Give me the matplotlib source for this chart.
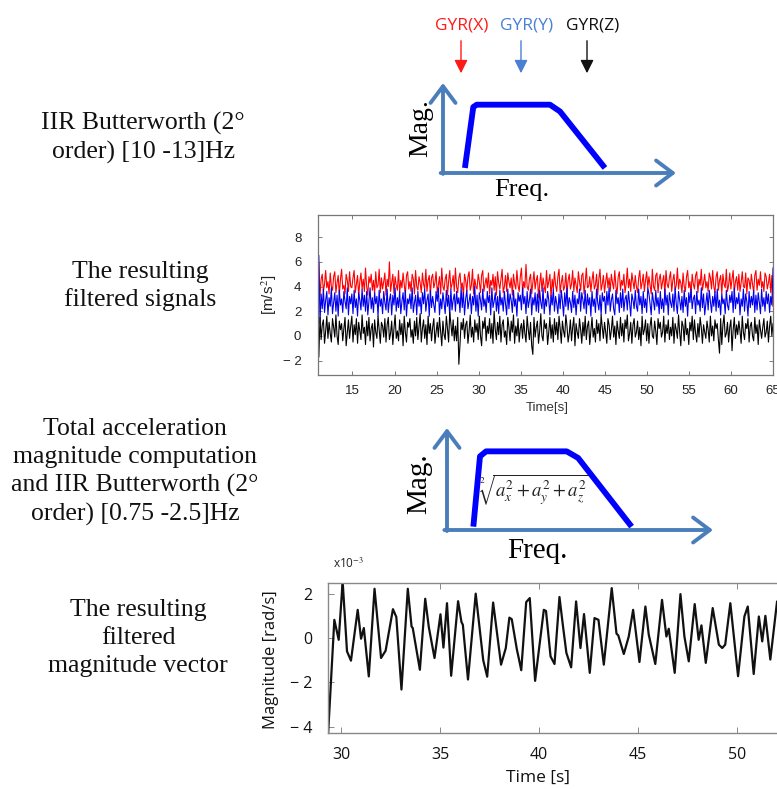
import numpy as np
import matplotlib
matplotlib.use("Agg")
import matplotlib.pyplot as plt

plt.rcParams["mathtext.fontset"] = "stix"

W, H = 777, 789

# ---- filtered gyro signals, 11 s .. 65 s (hand read, thinned) ----
T_START, T_END = 11.0, 65.0
gyr_x = [
    5.9, 3.2, 4.6, 5.0, 3.6, 4.2, 5.3, 3.9, 4.4, 3.4,
    5.1, 4.0, 3.7, 4.8, 5.2, 3.5, 4.3, 4.9, 3.3, 4.6,
    5.4, 3.8, 4.1, 3.4, 5.0, 4.5, 3.6, 5.2, 4.0, 3.9,
    4.7, 5.3, 3.5, 4.2, 4.9, 3.2, 4.4, 5.1, 3.8, 4.6,
    3.6, 5.5, 4.0, 3.3, 4.8, 4.3, 5.0, 3.7, 4.5, 3.4,
    5.2, 3.9, 4.1, 5.4, 3.5, 4.7, 3.8, 4.4, 5.1, 3.3,
    4.6, 4.0, 6.0, 3.6, 4.3, 5.0, 3.4, 4.8, 4.1, 3.7,
    5.3, 3.5, 4.5, 3.9, 5.1, 4.2, 3.3, 4.9, 5.2, 3.8,
    4.4, 3.6, 5.0, 4.6, 3.4, 5.3, 4.0, 3.7, 4.8, 4.3,
    3.5, 5.1, 4.2, 3.8, 5.4, 3.6, 4.5, 4.9, 3.3, 4.7,
    5.0, 3.9, 4.3, 5.2, 3.5, 4.1, 4.8, 3.4, 5.5, 4.0,
    3.7, 4.6, 5.0, 3.3, 4.4, 5.3, 3.8, 4.2, 4.9, 3.6,
    5.5, 4.0, 3.5, 4.7, 5.1, 3.9, 4.3, 3.2, 5.0, 4.5,
    3.6, 4.8, 5.2, 3.7, 4.1, 5.4, 3.4, 4.6, 4.0, 3.8,
    5.0, 4.4, 3.5, 4.9, 5.3, 3.6, 4.2, 4.7, 3.9, 5.1,
    3.4, 4.5, 4.1, 5.0, 3.7, 4.8, 3.3, 5.2, 4.3, 3.8,
    4.6, 5.4, 3.5, 4.0, 4.9, 3.6, 5.1, 4.4, 3.9, 4.7,
    3.3, 5.0, 4.2, 3.8, 5.3, 4.1, 3.6, 4.8, 5.5, 3.5,
    4.4, 3.9, 5.8, 4.0, 3.7, 4.6, 5.0, 3.4, 4.3, 5.2,
    3.8, 4.5, 4.9, 3.1, 4.2, 5.1, 3.6, 4.7, 4.0, 3.5,
    5.3, 3.9, 4.4, 5.0, 3.0, 4.6, 3.8, 5.2, 4.1, 3.6,
    4.8, 5.4, 3.5, 4.3, 4.9, 3.7, 4.0, 5.1, 3.4, 4.5,
    5.0, 3.8, 4.2, 5.3, 3.6, 4.7, 4.1, 3.5, 5.2, 4.4,
    3.7, 4.9, 5.1, 3.4, 4.3, 5.5, 3.9, 4.0, 4.8, 3.6,
    4.5, 5.2, 3.8, 4.1, 5.0, 3.3, 4.6, 5.4, 3.7, 4.2,
    4.9, 3.5, 4.4, 5.1, 3.9, 4.7, 3.6, 5.0, 4.3, 3.8,
    5.3, 4.0, 3.4, 4.8, 5.2, 3.7, 4.5, 4.1, 5.0, 3.5,
    4.2, 5.5, 3.9, 4.6, 3.6, 5.1, 4.4, 3.8, 4.9, 4.0,
    3.5, 4.7, 5.3, 3.8, 4.3, 5.0, 3.6, 4.5, 5.2, 3.9,
    4.8, 4.1, 3.4, 5.4, 4.0, 3.7, 4.9, 5.1, 3.5, 4.6,
    5.0, 3.8, 4.4, 4.9, 3.3, 5.3, 4.2, 3.9, 4.7, 5.2,
    3.6, 4.5, 5.0, 3.7, 4.1, 5.5, 3.8, 4.6, 4.3, 3.5,
    5.1, 4.0, 3.6, 4.8, 5.3, 3.9, 4.4, 3.4, 5.0, 4.2,
    3.8, 4.9, 5.2, 3.5, 4.6, 4.1, 5.4, 3.7, 4.3, 5.0,
    3.9, 4.4, 3.6, 5.1, 4.7, 3.8, 5.3, 4.0, 3.5, 4.8,
    5.2, 3.7, 4.5, 4.9, 3.4, 5.0, 4.2, 3.9, 5.4, 3.6,
    4.1, 5.1, 3.8, 4.6, 5.3, 3.5, 4.4, 4.8, 3.7, 5.0,
    3.6, 4.3, 5.2, 4.0, 3.9, 5.1, 3.4, 4.7, 4.5, 3.8,
    5.0, 4.2, 3.5, 4.9, 5.3, 3.7, 4.6, 4.1, 5.2, 3.9,
    4.4, 3.6, 5.1, 4.8, 3.8, 4.3, 5.0, 3.5, 4.9, 2.4,
]
gyr_y = [
    6.5, 1.0, 3.4, 2.2, 3.8, 1.9, 2.9, 3.6, 1.7, 3.1,
    2.4, 3.9, 1.8, 2.7, 3.5, 2.0, 3.3, 1.6, 3.7, 2.5,
    3.0, 1.9, 3.6, 2.8, 2.2, 3.9, 1.7, 3.2, 2.6, 3.4,
    1.8, 3.7, 2.3, 3.0, 1.6, 3.5, 2.9, 2.1, 3.8, 2.4,
    3.3, 2.0, 3.6, 1.7, 2.8, 3.9, 2.2, 3.1, 1.9, 3.5,
    2.6, 3.2, 1.6, 3.7, 2.4, 3.0, 1.8, 3.6, 2.7, 2.1,
    3.8, 1.9, 2.9, 3.4, 1.7, 3.3, 2.5, 3.9, 2.0, 3.1,
    2.3, 3.6, 1.8, 2.8, 3.5, 2.1, 3.7, 1.6, 3.0, 2.6,
    3.4, 2.2, 3.9, 1.9, 2.7, 3.3, 1.7, 3.6, 2.4, 3.1,
    1.8, 3.5, 2.6, 3.8, 2.0, 2.9, 3.4, 1.6, 3.7, 2.3,
    3.2, 2.5, 1.9, 3.6, 2.8, 3.9, 1.7, 3.0, 2.2, 3.5,
    2.7, 1.8, 3.7, 2.4, 3.3, 1.6, 3.8, 2.1, 2.9, 3.4,
    2.0, 3.6, 2.6, 3.1, 1.9, 3.9, 2.3, 3.5, 1.7, 3.0,
    3.7, 2.2, 2.8, 3.4, 1.8, 3.2, 2.5, 4.0, 2.0, 3.3,
    1.6, 3.5, 2.9, 2.1, 3.8, 2.4, 3.0, 1.9, 3.6, 2.7,
    3.3, 1.7, 3.9, 2.3, 2.8, 3.5, 2.0, 3.2, 1.8, 3.7,
    2.5, 3.1, 2.0, 3.6, 2.6, 1.7, 3.8, 2.2, 3.4, 2.9,
    1.9, 3.7, 2.4, 3.0, 1.6, 3.5, 2.8, 3.3, 2.1, 3.9,
    2.6, 3.2, 1.8, 3.6, 2.3, 2.9, 3.8, 1.7, 3.1, 2.5,
    3.5, 2.0, 3.4, 1.9, 3.7, 2.7, 2.2, 3.9, 1.8, 3.0,
    2.4, 3.6, 2.9, 1.7, 3.3, 2.5, 3.8, 2.0, 3.2, 2.6,
    1.8, 3.4, 2.2, 3.7, 2.8, 1.6, 3.5, 2.4, 3.9, 2.1,
    3.1, 2.7, 1.9, 3.6, 2.3, 3.3, 1.7, 3.0, 2.6, 3.8,
    2.0, 3.5, 2.9, 2.2, 3.7, 1.8, 3.4, 2.5, 3.1, 1.6,
    3.6, 2.4, 3.0, 1.9, 3.8, 2.7, 2.1, 3.3, 1.7, 3.5,
    2.8, 3.2, 1.8, 3.6, 2.5, 3.9, 2.0, 2.9, 3.4, 2.2,
    1.7, 3.7, 2.6, 3.1, 1.9, 3.5, 2.3, 3.8, 2.0, 3.0,
    3.3, 2.1, 3.6, 2.7, 1.6, 3.4, 2.9, 2.2, 3.7, 2.4,
    2.0, 3.8, 2.5, 3.2, 1.8, 3.6, 2.3, 3.0, 1.9, 3.9,
    3.4, 2.6, 1.7, 3.5, 2.8, 2.1, 3.7, 2.4, 3.1, 1.8,
    3.6, 2.2, 3.0, 1.9, 3.8, 2.5, 3.3, 1.7, 3.5, 2.7,
    2.3, 3.4, 2.0, 3.9, 2.6, 1.8, 3.6, 2.9, 2.1, 3.2,
    1.9, 3.7, 2.4, 3.1, 1.6, 3.5, 2.7, 3.8, 2.2, 3.0,
    3.3, 1.8, 3.6, 2.5, 2.9, 2.0, 3.9, 2.3, 3.4, 1.7,
    2.6, 3.5, 2.1, 3.7, 2.8, 1.9, 3.2, 2.4, 3.6, 2.0,
    3.8, 2.3, 2.9, 1.7, 3.4, 2.6, 3.0, 1.8, 3.7, 2.5,
    2.1, 3.3, 2.7, 3.6, 1.9, 3.9, 2.2, 3.1, 2.6, 3.5,
    1.7, 3.0, 2.4, 3.8, 2.0, 3.4, 2.8, 1.6, 3.6, 2.3,
    3.2, 2.5, 3.7, 1.9, 3.3, 2.1, 3.5, 2.7, 1.8, 3.8,
    2.4, 3.1, 2.0, 3.6, 2.6, 3.4, 1.9, 3.2, 2.5, 5.5,
]
gyr_z = [
    -1.7, 1.5, -0.3, 0.9, 1.3, -0.6, 0.4, 1.6, -0.2, 1.1,
    0.2, -0.5, 1.4, 0.7, -0.1, 1.7, 0.0, -0.7, 1.2, 0.5,
    1.0, -0.4, 0.6, 1.5, -0.8, 0.3, 1.3, -0.2, 0.8, 1.6,
    -0.5, 0.9, 0.1, 1.4, -0.6, 1.1, 0.4, -0.3, 1.7, 0.2,
    0.7, -0.7, 1.2, 0.0, 1.5, -0.4, 0.6, 1.0, -0.9, 1.3,
    0.3, -0.2, 1.6, 0.5, -0.6, 1.1, 0.8, -0.1, 1.4, -0.5,
    0.9, 1.5, -0.3, 0.2, 1.2, -0.7, 0.6, 1.7, -0.2, 0.4,
    -0.4, 1.3, 0.1, 1.0, -0.8, 1.6, 0.3, -0.5, 1.1, 0.7,
    1.4, -0.1, 0.5, -0.6, 1.2, 0.0, 1.5, -0.3, 0.8, 1.8,
    -0.5, 0.6, 1.3, -0.2, 0.9, -0.7, 1.6, 0.2, 1.0, -0.4,
    0.7, 1.4, -0.6, 0.3, 1.1, -0.1, 1.5, 0.4, -0.8, 1.2,
    0.1, -0.3, 1.6, 0.6, -0.5, 1.9, 1.0, 0.0, 1.3, -0.4,
    0.8, -0.4, 1.5, -2.3, -0.7, 1.1, 0.5, 1.4, -0.2, 0.9,
    1.2, -0.6, 0.4, 1.7, -0.1, 0.7, -0.5, 1.3, 0.3, 1.0,
    -0.3, 1.6, 0.0, -0.8, 1.2, 0.6, 1.5, -0.4, 0.8, 0.2,
    1.4, -0.2, 1.0, -0.6, 2.0, 0.5, -0.3, 1.1, 0.1, 1.6,
    -0.5, 0.9, 1.3, -0.1, 0.4, -0.7, 1.5, 0.7, -0.4, 1.2,
    0.3, 1.7, -0.6, 0.8, 0.0, 1.4, -0.5, 0.6, 1.0, -0.2,
    1.3, 0.2, -0.5, 1.6, 0.5, -0.3, 1.1, -0.8, -1.5, 1.5,
    -0.1, 0.7, 1.2, -0.6, 0.4, 1.8, 0.0, -0.4, 1.3, 0.6,
    1.0, -0.7, 0.3, 1.5, -0.2, 0.9, -0.5, 1.4, 0.1, 1.1,
    -0.3, 1.6, 0.6, -0.6, 1.2, 0.4, -0.1, 1.7, 0.8, -0.5,
    0.2, 1.3, -0.4, 0.7, 1.5, -0.8, 1.0, 0.3, -0.2, 1.4,
    0.5, -0.6, 1.1, 0.0, 1.6, -0.3, 0.8, 1.2, -0.7, 0.4,
    1.5, -0.1, 0.6, -0.5, 1.3, 0.2, 1.0, -0.4, 1.7, 0.7,
    -0.2, 1.1, 0.3, -0.6, 1.4, 0.9, -0.3, 0.5, 1.6, -0.1,
    0.8, -0.7, 1.2, 0.4, -0.2, 1.5, 0.0, 1.0, -0.5, 1.3,
    0.6, 1.7, -0.4, 0.2, 1.1, -0.6, 0.9, 1.4, -0.1, 0.3,
    1.2, -0.3, 0.7, -0.8, 1.6, 0.1, 0.5, 1.3, -0.4, 1.0,
    -0.6, 0.8, 1.5, 0.0, -0.2, 1.2, 0.4, -0.7, 1.4, 0.6,
    1.1, -0.1, 0.3, 1.6, -0.5, 0.9, 0.2, 1.3, -0.3, 0.7,
    0.0, 1.5, -0.6, 1.0, 0.5, -0.2, 1.7, 0.3, -0.8, 1.2,
    0.8, -0.4, 1.4, 0.1, 0.6, -0.7, 1.1, 0.4, 1.6, -0.3,
    1.3, 0.2, -0.5, 1.0, -0.1, 1.5, 0.7, -0.6, 0.9, 0.3,
    -0.2, 1.2, 0.5, -0.5, 1.6, 0.0, 0.8, -0.4, 1.3, 0.6,
    1.0, -0.3, -1.4, 1.4, -0.7, 0.9, 1.7, -0.1, 0.2, 1.1,
    -0.5, 0.7, 1.3, -1.2, 0.5, 1.5, -0.2, 0.9, 0.1, 1.2,
    0.4, -0.6, 1.6, 0.3, -0.3, 1.0, 0.6, 1.4, -0.5, 0.8,
    1.1, 0.0, -0.4, 1.5, 0.2, 0.9, -0.7, 1.3, 0.5, -0.2,
    0.7, 1.4, -0.1, 0.3, 1.2, -0.5, 0.8, 1.6, 0.0, 1.0,
]

mag_t = [29.34, 29.66, 29.88, 30.08, 30.30, 30.50, 30.84, 31.01, 31.15, 31.40,
         31.69, 32.02, 32.25, 32.62, 32.79, 33.05, 33.37, 33.56, 33.62, 33.98,
         34.25, 34.43, 34.72, 35.02, 35.17, 35.35, 35.56, 35.91, 36.08, 36.15,
         36.41, 36.80, 37.18, 37.38, 37.68, 38.08, 38.32, 38.50, 38.62, 38.88,
         38.96, 39.10, 39.35, 39.53, 39.80, 40.24, 40.35, 40.58, 40.78, 41.03,
         41.21, 41.38, 41.62, 41.87, 42.09, 42.27, 42.56, 42.80, 43.00, 43.27,
         43.67, 43.91, 44.00, 44.28, 44.53, 44.75, 45.07, 45.37, 45.54, 45.87,
         46.21, 46.43, 46.55, 46.85, 47.14, 47.34, 47.56, 47.86, 48.06, 48.20,
         48.42, 48.77, 49.08, 49.25, 49.40, 49.66, 50.05, 50.37, 50.54, 50.84,
         51.10, 51.27, 51.43, 51.68, 52.02, 52.20]
mag_v = [-4.40, 0.82, -0.08, 2.55, -0.60, -1.02, 1.27, -0.03, 0.45, -1.73,
         2.22, -0.90, -0.57, 1.30, 0.95, -2.32, 2.22, 0.52, 0.45, -1.43,
         1.77, 0.50, -0.90, 1.07, -0.43, 1.57, -1.70, 1.66, 0.72, 0.60,
         -1.87, 2.00, -1.00, -1.74, 1.60, -1.20, -0.45, 0.92, 0.85, -0.52,
         -0.85, -1.45, 1.62, 1.80, -1.93, 1.27, 1.22, -0.83, -1.17, 1.85,
         0.52, -0.67, -1.32, 1.65, -0.45, 1.08, -1.57, 0.90, 0.82, -1.20,
         2.25, 0.20, 0.12, -0.72, 0.07, 1.27, -1.08, 1.42, 0.15, -1.17,
         1.72, 0.07, 0.42, -1.57, 1.98, 0.07, -1.05, 1.53, -0.08, 0.57,
         -1.12, 1.35, -0.30, -0.45, -0.30, 1.57, -1.72, 0.97, 1.42, -1.62,
         0.97, -0.15, 1.00, -0.97, 1.65, 0.20]

# ---- schematic band-pass shapes (fraction of freq / mag axis) ----
bp1_f = [0.094, 0.130, 0.145, 0.459, 0.502, 0.695]
bp1_m = [0.056, 0.733, 0.759, 0.759, 0.684, 0.056]
bp2_f = [0.099, 0.124, 0.147, 0.450, 0.493, 0.694]
bp2_m = [0.033, 0.722, 0.771, 0.771, 0.706, 0.033]

gyr_labels = ["GYR(X)", "GYR(Y)", "GYR(Z)"]
gyr_colors = ["#ff1a1a", "#4a7fd4", "#111111"]

SERIF = "Liberation Serif"
AX_BLUE = "#4a7ebb"


def box(x0, y0, x1, y1):
    # pixel box (top-left origin) -> figure fraction rect
    return [x0 / W, 1 - y1 / H, (x1 - x0) / W, (y1 - y0) / H]


fig = plt.figure(figsize=(W / 100, H / 100), dpi=100)
ov = fig.add_axes([0, 0, 1, 1])
ov.set_xlim(0, W)
ov.set_ylim(H, 0)
ov.axis("off")

# left column captions
captions = [
    (143, 138, "IIR Butterworth (2°\norder) [10 -13]Hz"),
    (140, 286, "The resulting\nfiltered signals"),
    (135, 472, "Total acceleration\nmagnitude computation\nand IIR Butterworth (2°\norder) [0.75 -2.5]Hz"),
    (138, 638, "The resulting\nfiltered\nmagnitude vector"),
]
for x, y, s in captions:
    ov.text(x, y, s, ha="center", va="center", family=SERIF, fontsize=18.5,
            linespacing=1.33, color="#111111")

# GYR labels with arrows
for lab, col, x in zip(gyr_labels, gyr_colors, [461, 521, 587]):
    ov.text(x + (1 if lab.endswith("X)") else 6), 25, lab, ha="center", va="center",
            family="Open Sans", fontsize=12.5, color=col)
    ov.annotate("", xy=(x, 76), xytext=(x, 38),
                arrowprops=dict(arrowstyle="-|>,head_length=0.8,head_width=0.4",
                                color=col, lw=1.0, mutation_scale=10))


def filter_sketch(rect, f, m, lw_curve):
    ax = fig.add_axes(rect)
    ax.set_xlim(0, 1)
    ax.set_ylim(0, 1)
    ax.axis("off")
    sty = dict(arrowstyle="->,head_length=0.6,head_width=0.45", color=AX_BLUE,
               lw=2.8, mutation_scale=20, shrinkA=0, shrinkB=0)
    ax.annotate("", xy=(0, 1), xytext=(0, -0.01), arrowprops=sty)
    ax.annotate("", xy=(1, 0), xytext=(-0.01, 0), arrowprops=sty)
    ax.plot(f, m, color="#0000ff", lw=lw_curve, solid_joinstyle="round",
            solid_capstyle="butt", clip_on=False)
    return ax


filter_sketch(box(443, 83, 676, 173), bp1_f, bp1_m, 4.2)
ov.text(421, 128, "Mag.", rotation=90, ha="center", va="center", family=SERIF, fontsize=20)
ov.text(522, 190, "Freq.", ha="center", va="center", family=SERIF, fontsize=19)

filter_sketch(box(447, 428, 713, 530), bp2_f, bp2_m, 4.2)
ov.text(419, 484, "Mag.", rotation=90, ha="center", va="center", family=SERIF, fontsize=21)
ov.text(537, 551, "Freq.", ha="center", va="center", family=SERIF, fontsize=21)
ov.text(534, 490, r"$\sqrt[2]{a_x^2 + a_y^2 + a_z^2}$", ha="center", va="center",
        fontsize=13.5, color="#222222")

# middle panel: filtered signals
ax1 = fig.add_axes(box(318, 215, 773, 375))
for vals, col in [(gyr_x, "#ff0000"), (gyr_y, "#0000ee"), (gyr_z, "#000000")]:
    t = np.linspace(T_START, T_END, len(vals))
    ax1.plot(t, vals, color=col, lw=0.8)
ax1.set_xlim(10.9, 65.0)
ax1.set_ylim(-3.17, 9.8)
ax1.set_xticks(range(15, 66, 5))
ax1.set_yticks([-2, 0, 2, 4, 6, 8])
ax1.set_yticklabels(["− 2", "0", "2", "4", "6", "8"])
ax1.tick_params(direction="in", top=True, right=True, length=3, width=0.6,
                colors="#666666", labelcolor="#222222", labelsize=9.5)
ax1.tick_params(axis="y", pad=12)
ax1.tick_params(axis="x", pad=7)
for lab in ax1.get_xticklabels() + ax1.get_yticklabels():
    lab.set_family("Liberation Sans")
for sp in ax1.spines.values():
    sp.set_color("#777777")
    sp.set_linewidth(0.9)
ov.text(547, 408, "Time[s]", ha="center", va="center", family="Liberation Sans",
        fontsize=9.5, color="#333333")
ov.text(269, 295, r"[m/s$^2$]", rotation=90, ha="center", va="center",
        family="Liberation Sans", fontsize=11, color="#222222")

# bottom panel: magnitude vector
ax2 = fig.add_axes(box(328, 583, 780, 733))
ax2.plot(mag_t, mag_v, color="#111111", lw=1.6, solid_joinstyle="round")
ax2.set_xlim(29.34, 29.34 + 452 / 19.8)
ax2.set_ylim(-4.28, 2.48)
ax2.set_xticks([30, 35, 40, 45, 50])
ax2.set_yticks([-4, -2, 0, 2])
ax2.set_yticklabels(["− 4", "− 2", "0", "2"])
ax2.tick_params(direction="in", top=True, right=False, length=4, width=0.6,
                colors="#777777", labelcolor="#111111", labelsize=11.5)
ax2.tick_params(axis="y", pad=11)
ax2.tick_params(axis="x", pad=10)
for lab in ax2.get_xticklabels() + ax2.get_yticklabels():
    lab.set_family("Open Sans")
for sp in ax2.spines.values():
    sp.set_color("#888888")
    sp.set_linewidth(1.0)
ov.text(333, 564, r"x10$^{-3}$", ha="left", va="center", family="Open Sans",
        fontsize=8.5, color="#222222")
ov.text(538, 778, "Time [s]", ha="center", va="center", family="Open Sans",
        fontsize=12.5, color="#111111")
ov.text(271, 660, "Magnitude [rad/s]", rotation=90, ha="center", va="center",
        family="Open Sans", fontsize=12, color="#111111")

fig.savefig("out.png", dpi=100)
